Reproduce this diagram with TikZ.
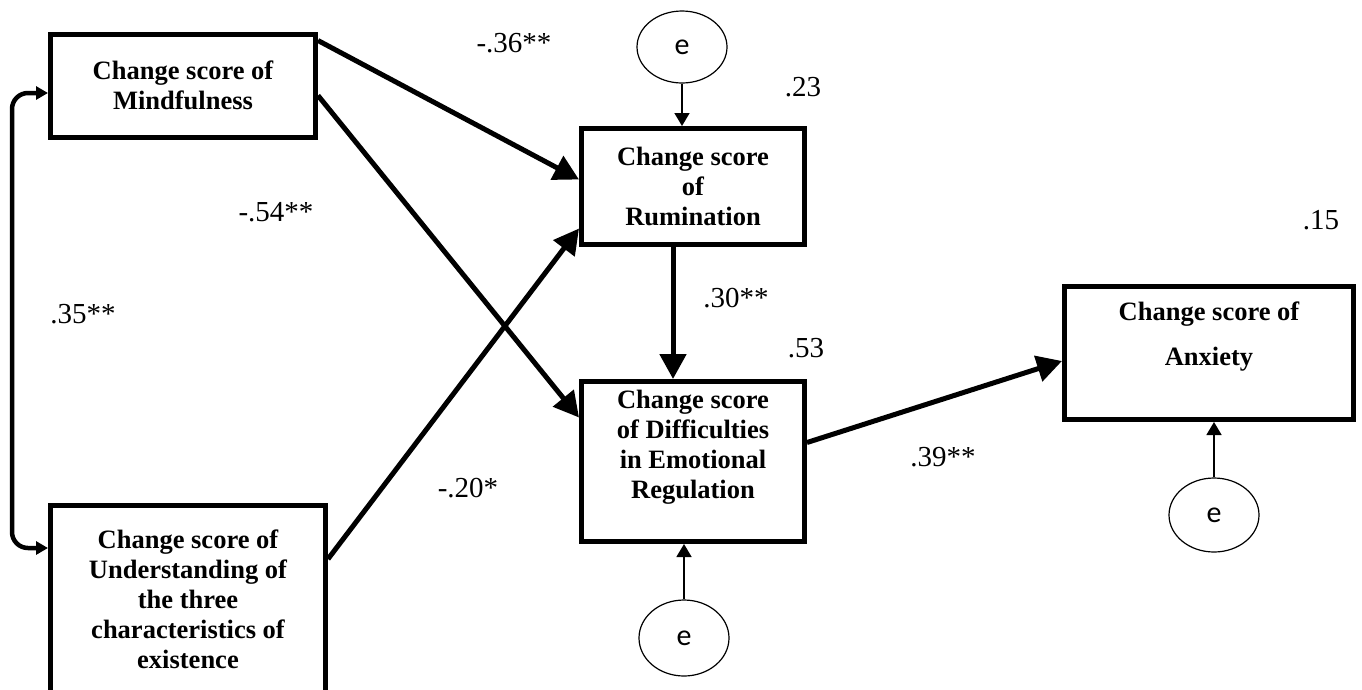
\documentclass[tikz,border=0pt]{standalone}
\usepackage{fontspec}
\setmainfont{Liberation Serif}
\newfontfamily\efont{Carlito}
\usetikzlibrary{arrows.meta,shapes.geometric}
\tikzset{
  varbox/.style={draw, line width=5pt, inner sep=0pt, align=center,
    font=\bfseries\fontsize{26.5}{30}\selectfont},
  errnode/.style={draw, ellipse, line width=1.2pt, inner sep=0pt,
    minimum width=90pt, minimum height=72pt, font=\efont\fontsize{30}{30}\selectfont},
  coef/.style={font=\fontsize{29}{32}\selectfont, inner sep=0pt},
  pathline/.style={line width=5pt, -{Triangle[length=25pt,width=26pt]}},
  errarrow/.style={line width=1.6pt, -{Triangle[length=13pt,width=15pt]}},
  corr/.style={line width=4.5pt, {Triangle[length=12pt,width=13pt]}-{Triangle[length=12pt,width=13pt]},
    rounded corners=16pt}
}
\begin{document}
\begin{tikzpicture}[x=1pt,y=-1pt]
\useasboundingbox (0,0) rectangle (1362,689);

% observed variables
\node[varbox, minimum width=265pt, minimum height=103pt] (M) at (183,85.5)
  {Change score of\\Mindfulness};
\node[varbox, minimum width=275pt, minimum height=188pt] (U) at (188,599)
  {Change score of\\Understanding of\\the three\\characteristics of\\existence};
\node[varbox, minimum width=223pt, minimum height=116pt] (R) at (693,186.5)
  {Change score\\of\\Rumination};
\node[varbox, minimum width=223pt, minimum height=160pt] (D) at (693,461.5)
  {Change score\\of Difficulties\\in Emotional\\Regulation\\[4pt]};
\node[varbox, minimum width=289pt, minimum height=133pt] (A) at (1209,353)
  {Change score of\\[15pt]Anxiety\\[8pt]};

% error terms
\node[errnode] (eR) at (682,47) {e};
\node[errnode, minimum height=76pt] (eD) at (684,638) {e};
\node[errnode, minimum height=74pt] (eA) at (1214,515) {e};

% structural paths
\draw[pathline] ([yshift=-9pt]M.north east) -- ([yshift=7pt]R.west);
\draw[pathline] ([yshift=-10pt]M.east) -- ([yshift=44pt]D.west);
\draw[pathline] ([yshift=40pt]U.east) -- ([yshift=-42pt]R.west);
\draw[pathline] ([xshift=-20pt]R.south) -- ([xshift=-20pt]D.north);
\draw[pathline] ([yshift=19pt]D.east) -- ([yshift=-8pt]A.west);

% disturbances
\draw[errarrow] (eR.south) -- (eR.south |- R.north);
\draw[errarrow] (eD.north) -- (eD.north |- D.south);
\draw[errarrow] (eA.north) -- (eA.north |- A.south);

% covariance between predictors
\coordinate (c1) at (12,93);
\coordinate (c2) at (12,548);
\draw[corr] ([yshift=-7.5pt]M.west) -- (c1) -- (c2) -- ([yshift=51pt]U.west);

% coefficients
\node[coef] (k1) at (514,43) {-.36**};
\node[coef] (k2) at (276,212) {-.54**};
\node[coef] (k3) at (83,314) {.35**};
\node[coef] (k4) at (468,488) {-.20*};
\node[coef] (k5) at (736,298) {.30**};
\node[coef] (k6) at (943,457) {.39**};
\node[coef] (r1) at (803,87) {.23};
\node[coef] (r2) at (806,348) {.53};
\node[coef] (r3) at (1321,220) {.15};
\end{tikzpicture}
\end{document}
